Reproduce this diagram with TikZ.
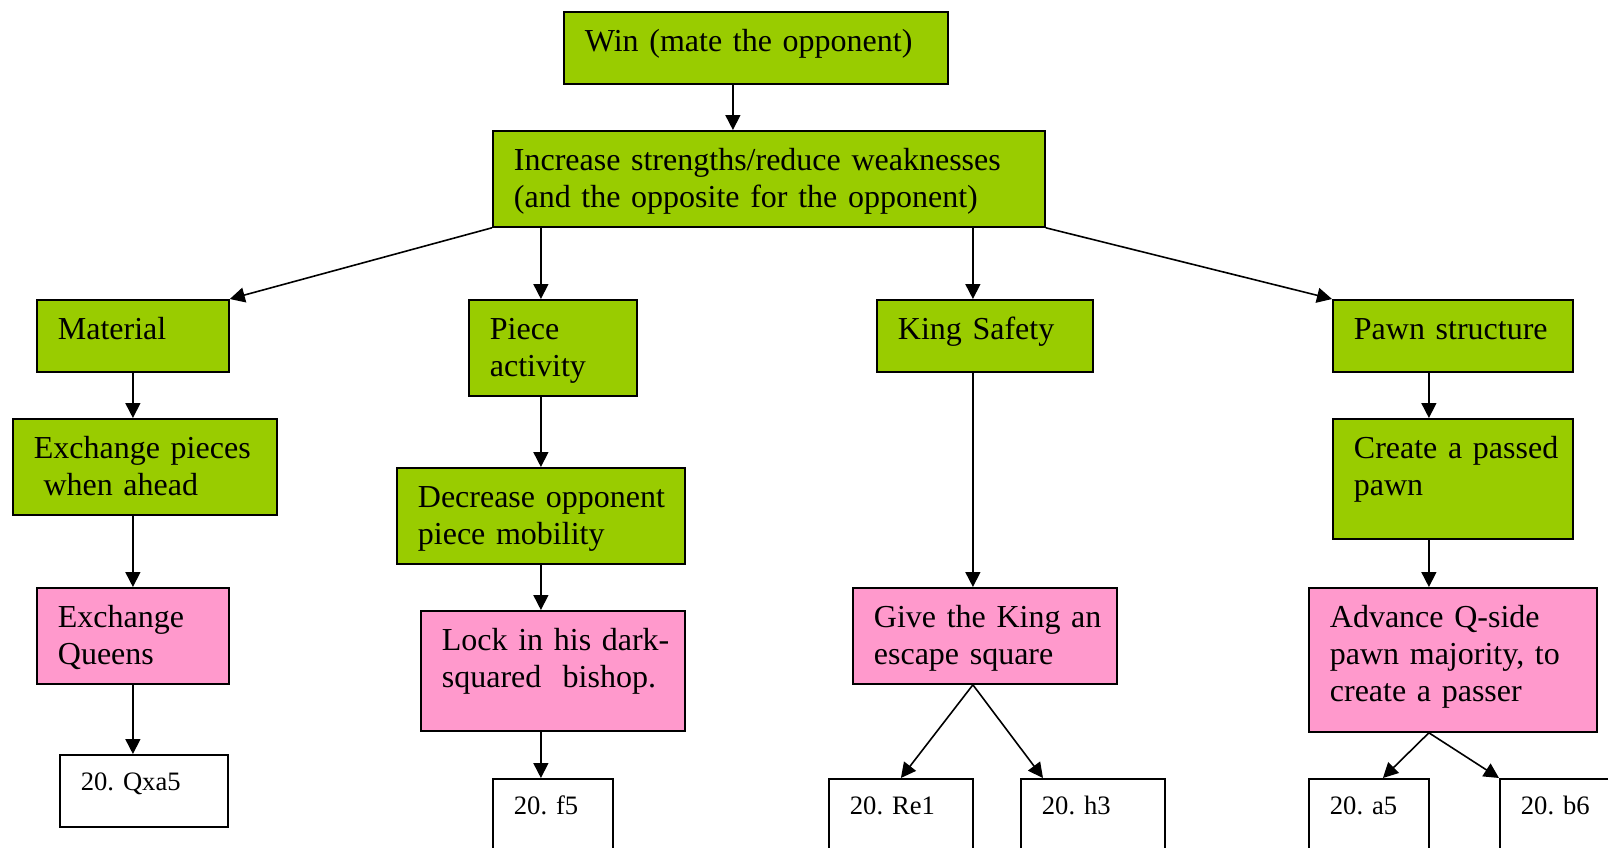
\documentclass[tikz,border=0pt]{standalone}
\usepackage{fontspec}
\setmainfont{Liberation Serif}
\usetikzlibrary{arrows.meta,positioning,calc}
\definecolor{leaf}{HTML}{99CC00}
\definecolor{blush}{HTML}{FF99CC}

\begin{document}
\begin{tikzpicture}[x=0.5pt, y=-0.5pt,
    tile/.style={draw, line width=0.9pt, anchor=north west, inner xsep=0pt,
                 inner ysep=0pt, align=left, text height=20pt,
                 execute at begin node={\frenchspacing\leftskip=10.5pt\rightskip=0pt plus 1fil},
                 font=\fontsize{16pt}{18.3pt}\selectfont},
    goal/.style={tile, fill=leaf},
    plan/.style={tile, fill=blush},
    move/.style={tile, fill=white, text height=18pt, text depth=18pt,
                 font=\fontsize{13.3pt}{15.3pt}\selectfont},
    link/.style={line width=0.8pt, -{Triangle[length=7.5pt, width=7.5pt]}}]
  \useasboundingbox (0,0) rectangle (1608,847);
  \clip (0,0) rectangle (1608,847);
  % aim and main rule
  \node[goal, text width=192pt, text depth=16pt] (win) at (563,11) {Win (mate the opponent)};
  \node[goal, text width=276pt, text depth=28pt] (inc) at (492,130)
        {Increase strengths/reduce weaknesses\\(and the opposite for the opponent)};
  % four factors
  \node[goal, text width=96pt, text depth=16pt] (mat) at (36,299) {Material};
  \node[goal, text width=84pt, text depth=28pt] (pact) at (468,299) {Piece\\activity};
  \node[goal, text width=108pt, text depth=16pt] (king) at (876,299) {King Safety};
  \node[goal, text width=120pt, text depth=16pt] (pawn) at (1332,299) {Pawn structure};
  % sub-goals
  \node[goal, text width=132pt, text depth=28pt] (exch) at (12,418)
        {Exchange pieces\\\hspace*{0.3em}when ahead};
  \node[goal, text width=144pt, text depth=28pt] (decr) at (396,467)
        {Decrease opponent\\piece mobility};
  \node[goal, text width=120pt, text depth=40pt] (passed) at (1332,418)
        {Create a passed\\pawn};
  % plans
  \node[plan, text width=96pt, text depth=28pt] (queens) at (36,587) {Exchange\\Queens};
  \node[plan, text width=132pt, text depth=40pt] (lock) at (420,610)
        {Lock in his dark-\\squared\ \ bishop.};
  \node[plan, text width=132pt, text depth=28pt] (give) at (852,587)
        {Give the King an\\escape square};
  \node[plan, text width=144pt, text depth=52pt] (adv) at (1308,587)
        {Advance Q-side\\pawn majority, to\\create a passer};
  % candidate moves
  \node[move, text width=84pt] (qxa5) at (59,754) {20. Qxa5};
  \node[move, text width=60pt] (f5) at (492,778) {20. f5};
  \node[move, text width=72pt] (re1) at (828,778) {20. Re1};
  \node[move, text width=72pt] (h3) at (1020,778) {20. h3};
  \node[move, text width=60pt] (a5) at (1308,778) {20. a5};
  \node[move, text width=60pt] (b6) at (1499,778) {20. b6};
  % arrows
  \draw[link] ([xshift=-11.5pt]win.south) -- ([xshift=-11.5pt]win.south |- inc.north);
  \draw[link] (inc.south west) -- (mat.north east);
  \draw[link] ([xshift=-6pt]pact.north |- inc.south) -- ([xshift=-6pt]pact.north);
  \draw[link] ([xshift=-6pt]king.north |- inc.south) -- ([xshift=-6pt]king.north);
  \draw[link] (inc.south east) -- (pawn.north west);
  \draw[link] (mat.south) -- (mat.south |- exch.north);
  \draw[link] (queens.north |- exch.south) -- (queens.north);
  \draw[link] (queens.south) -- (queens.south |- qxa5.north);
  \draw[link] (decr.north |- pact.south) -- (decr.north);
  \draw[link] (decr.south) -- (decr.south |- lock.north);
  \draw[link] ([xshift=-6pt]lock.south) -- ([xshift=-6pt]lock.south |- f5.north);
  \draw[link] ([xshift=-6pt]king.south) -- ([xshift=-6pt]king.south |- give.north);
  \draw[link] ([xshift=-6pt]give.south) -- (re1.north);
  \draw[link] ([xshift=-6pt]give.south) -- ([xshift=11.5pt]h3.north west);
  \draw[link] ([xshift=-12pt]pawn.south) -- ([xshift=-12pt]pawn.south |- passed.north);
  \draw[link] ([xshift=-12pt]passed.south) -- ([xshift=-12pt]passed.south |- adv.north);
  \draw[link] ([xshift=-12pt]adv.south) -- ([xshift=7pt]a5.north);
  \draw[link] ([xshift=-12pt]adv.south) -- (b6.north west);
\end{tikzpicture}
\end{document}
